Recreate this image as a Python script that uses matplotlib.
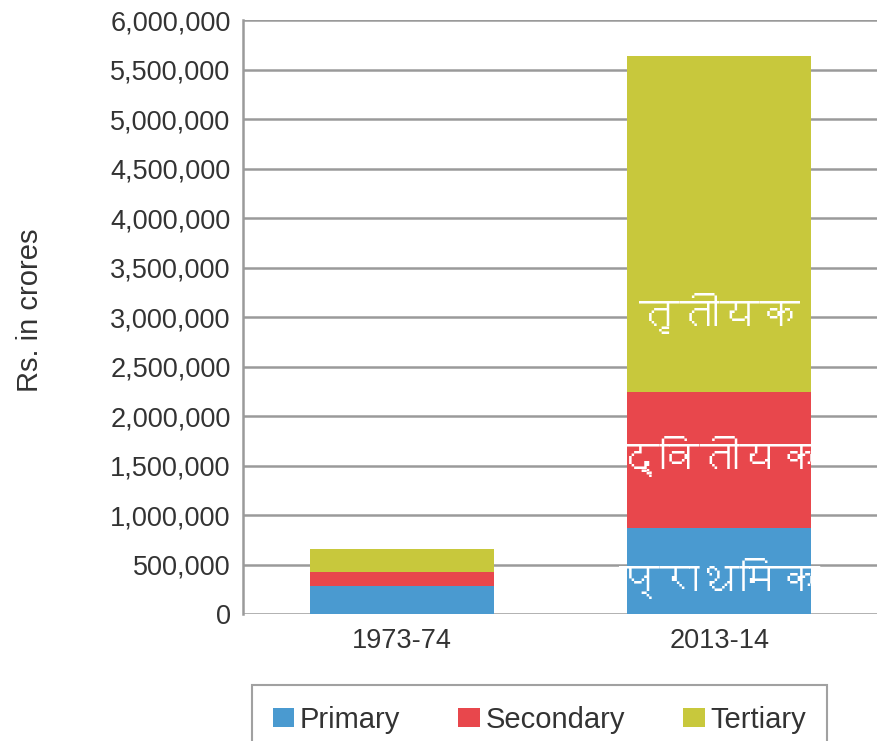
import matplotlib
matplotlib.use("Agg")
import matplotlib.pyplot as plt
from matplotlib import font_manager
from matplotlib.ft2font import FT2Font
from matplotlib.ticker import FuncFormatter, MultipleLocator

categories = ["1973-74", "2013-14"]
primary = [290000, 870000]
secondary = [140000, 1370000]
tertiary = [225000, 3400000]
series_names = ["Primary", "Secondary", "Tertiary"]
hindi_labels = ["प्राथमिक", "द्वितीयक", "तृतीयक"]
colors = ["#4A9AD0", "#E8474C", "#C8C83C"]

# find a font that covers Devanagari, if any
deva_font = None
for f in font_manager.fontManager.ttflist:
    try:
        cm = FT2Font(f.fname).get_charmap()
        if 0x0924 in cm and 0x0915 in cm:
            deva_font = f.name
            break
    except Exception:
        pass
deva_family = [deva_font, "DejaVu Sans"] if deva_font else ["DejaVu Sans"]

plt.rcParams["font.family"] = ["Liberation Sans", "DejaVu Sans"]

fig = plt.figure(figsize=(8.78, 7.41), dpi=100)
ax = fig.add_axes([0.277, 0.171, 0.723, 0.802])

x = list(range(len(categories)))
w = 0.58
bottoms = [0] * len(categories)
stack_bottoms = []
for vals, name, c in zip([primary, secondary, tertiary], series_names, colors):
    ax.bar(x, vals, width=w, bottom=bottoms, color=c, label=name, zorder=3)
    stack_bottoms.append(list(bottoms))
    bottoms = [b + v for b, v in zip(bottoms, vals)]

# Hindi labels on the 2013-14 bar (relative position within each segment)
rel_pos = [0.42, 0.53, 0.235]
for vals, lab, bot, r in zip([primary, secondary, tertiary], hindi_labels,
                             stack_bottoms, rel_pos):
    ax.text(x[1], bot[1] + vals[1] * r, lab, color="white", ha="center",
            va="center", fontsize=29, family=deva_family, zorder=4)

ax.set_xlim(-0.5, 1.5)
ax.set_ylim(0, 6000000)
ax.yaxis.set_major_locator(MultipleLocator(500000))
ax.yaxis.set_major_formatter(FuncFormatter(lambda v, p: f"{int(v):,}"))
ax.grid(axis="y", color="#9a9a9a", linewidth=1.8, zorder=0)
for s in ["top", "right", "bottom"]:
    ax.spines[s].set_visible(False)
ax.spines["left"].set_color("#9a9a9a")
ax.spines["left"].set_linewidth(1.8)
ax.tick_params(axis="both", length=0, labelsize=19.5, colors="#333333")
ax.tick_params(axis="y", pad=9)
ax.tick_params(axis="x", pad=10)
ax.set_xticks(x)
ax.set_xticklabels(categories)
fig.text(30 / 878, 1 - 310 / 741, "Rs. in crores", rotation=90, ha="center",
         va="center", fontsize=21, color="#333333")

leg = ax.legend(loc="upper left", bbox_to_anchor=(0.014, -0.1195), ncol=3,
                frameon=True, fancybox=False, edgecolor="#8a8a8a",
                fontsize=21, handlelength=0.75, handleheight=0.65,
                handletextpad=0.18, columnspacing=2.0, borderpad=0.7,
                borderaxespad=0)
leg.get_frame().set_linewidth(1.5)
for t in leg.get_texts():
    t.set_color("#333333")

fig.savefig("out.png", dpi=100)
